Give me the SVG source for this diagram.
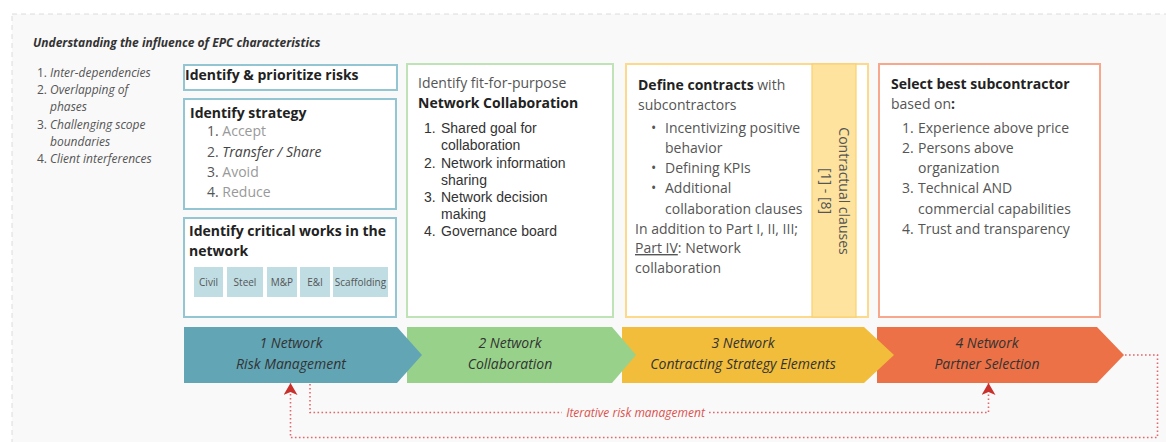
<svg xmlns="http://www.w3.org/2000/svg" width="1166" height="442" viewBox="0 0 1166 442">
  <style>
    .os { font-family: "Open Sans", "Noto Sans", "DejaVu Sans", sans-serif; }
    .ar { font-family: "Liberation Sans", Arial, sans-serif; }
    .title { font-size: 12px; font-weight: 700; font-style: italic; fill: #333; }
    .side { font-size: 12px; font-style: italic; fill: #555; }
    .sideN { font-size: 12px; fill: #555; }
    .head { font-size: 14px; font-weight: 700; fill: #222; }
    .body { font-size: 14px; fill: #555; }
    .dark { font-size: 14px; fill: #333; }
    .chip { fill: #bfdde3; }
    .chipT { font-size: 10px; fill: #555; text-anchor: middle; }
    .stage { font-size: 14px; font-style: italic; fill: #333; text-anchor: middle; }
    .bBlue { fill: #fff; stroke: #93c6d2; stroke-width: 2; }
    .bGreen { fill: #fff; stroke: #bfe2b7; stroke-width: 2; }
    .bYellow { fill: #fff; stroke: #fcd98b; stroke-width: 2; }
    .bOrange { fill: #fff; stroke: #f6a78c; stroke-width: 2; }
    .loop { fill: none; stroke: #e0676a; stroke-width: 1.6; stroke-dasharray: 1.6 2.4; }
    .loopT { font-size: 12px; font-style: italic; fill: #d9534f; text-anchor: middle; }
  </style>
  <defs>
    <marker id="arrow" markerUnits="userSpaceOnUse" markerWidth="12" markerHeight="14" viewBox="0 0 12 14" refX="12" refY="7" orient="auto">
      <path d="M0,0 L12,7 L0,14 L3,7 Z" fill="#c9302c"/>
    </marker>
  </defs>

  <!-- panel -->
  <rect x="12" y="14" width="1170" height="440" fill="#f9f9f9" stroke="#dcdcdc" stroke-width="1" stroke-dasharray="5 4"/>

  <text class="os title" x="33" y="47">Understanding the influence of EPC characteristics</text>

  <g id="epc-characteristics" class="os">
    <text class="sideN" x="37" y="77">1.</text><text class="side" x="50" y="77">Inter-dependencies</text>
    <text class="sideN" x="37" y="94">2.</text><text class="side" x="50" y="94">Overlapping of</text>
    <text class="side" x="50" y="111">phases</text>
    <text class="sideN" x="37" y="129">3.</text><text class="side" x="50" y="129">Challenging scope</text>
    <text class="side" x="50" y="146">boundaries</text>
    <text class="sideN" x="37" y="163">4.</text><text class="side" x="50" y="163">Client interferences</text>
  </g>

  <!-- risk management boxes -->
  <g id="prioritize-risks" class="os">
    <rect class="bBlue" x="184" y="65" width="213" height="25"/>
    <text class="head" x="185" y="80">Identify &amp; prioritize risks</text>
  </g>

  <g id="identify-strategy" class="os">
    <rect class="bBlue" x="184" y="99" width="212" height="110"/>
    <text class="head" x="190" y="118">Identify strategy</text>
    <text class="body" x="207" y="136">1. <tspan fill="#999">Accept</tspan></text>
    <text class="body" x="207" y="157">2. <tspan font-style="italic" fill="#444">Transfer / Share</tspan></text>
    <text class="body" x="207" y="177">3. <tspan fill="#999">Avoid</tspan></text>
    <text class="body" x="207" y="197">4. <tspan fill="#999">Reduce</tspan></text>
  </g>

  <g id="critical-works" class="os">
    <rect class="bBlue" x="184" y="218" width="212" height="99"/>
    <text class="head" x="189" y="236">Identify critical works in the</text>
    <text class="head" x="189" y="256">network</text>
    <rect class="chip" x="194" y="267" width="29" height="30"/>
    <text class="chipT" x="208.5" y="286">Civil</text>
    <rect class="chip" x="227" y="267" width="36" height="30"/>
    <text class="chipT" x="245" y="286">Steel</text>
    <rect class="chip" x="267" y="267" width="30" height="30"/>
    <text class="chipT" x="282" y="286">M&amp;P</text>
    <rect class="chip" x="300" y="267" width="30" height="30"/>
    <text class="chipT" x="315" y="286">E&amp;I</text>
    <rect class="chip" x="333" y="267" width="55" height="30"/>
    <text class="chipT" x="360.5" y="286">Scaffolding</text>
  </g>

  <!-- collaboration box -->
  <g id="network-collaboration" class="os">
    <rect class="bGreen" x="407" y="64" width="206" height="253"/>
    <text class="body" x="418" y="88" fill="#666">Identify fit-for-purpose</text>
    <text class="head" x="418" y="108">Network Collaboration</text>
    <g class="ar">
      <text class="dark" x="424" y="133">1.</text><text class="dark" x="441" y="133">Shared goal for</text>
      <text class="dark" x="441" y="150">collaboration</text>
      <text class="dark" x="424" y="168">2.</text><text class="dark" x="441" y="168">Network information</text>
      <text class="dark" x="441" y="185">sharing</text>
      <text class="dark" x="424" y="202">3.</text><text class="dark" x="441" y="202">Network decision</text>
      <text class="dark" x="441" y="219">making</text>
      <text class="dark" x="424" y="236">4.</text><text class="dark" x="441" y="236">Governance board</text>
    </g>
  </g>

  <!-- contracting box -->
  <g id="define-contracts" class="os">
    <rect class="bYellow" x="626" y="64" width="242" height="253"/>
    <rect x="812" y="64" width="44" height="253" fill="#fee39f" stroke="#f8d071" stroke-width="1.2"/>
    <text class="body" x="638" y="90"><tspan class="head">Define contracts</tspan> with</text>
    <text class="body" x="638" y="110">subcontractors</text>
    <text class="body" x="651" y="133">•</text><text class="body" x="665" y="133">Incentivizing positive</text>
    <text class="body" x="665" y="153">behavior</text>
    <text class="body" x="651" y="173">•</text><text class="body" x="665" y="173">Defining KPIs</text>
    <text class="body" x="651" y="193">•</text><text class="body" x="665" y="193">Additional</text>
    <text class="body" x="665" y="214">collaboration clauses</text>
    <text class="body" x="635" y="234">In addition to Part I, II, III;</text>
    <text class="body" x="635" y="253"><tspan text-decoration="underline">Part IV</tspan>: Network</text>
    <text class="body" x="635" y="273">collaboration</text>
    <text class="body" transform="translate(839,191) rotate(90)" text-anchor="middle">Contractual clauses</text>
    <text class="body" transform="translate(821,191) rotate(90)" text-anchor="middle">[1] - [8]</text>
  </g>

  <!-- partner selection box -->
  <g id="select-subcontractor" class="os">
    <rect class="bOrange" x="879" y="64" width="221" height="253"/>
    <text class="head" x="891" y="89">Select best subcontractor</text>
    <text class="body" x="891" y="109">based on<tspan font-weight="700" fill="#333">:</tspan></text>
    <text class="body" x="902" y="133">1.</text><text class="body" x="918" y="133">Experience above price</text>
    <text class="body" x="902" y="153">2.</text><text class="body" x="918" y="153">Persons above</text>
    <text class="body" x="918" y="173">organization</text>
    <text class="body" x="902" y="193">3.</text><text class="body" x="918" y="193">Technical AND</text>
    <text class="body" x="918" y="214">commercial capabilities</text>
    <text class="body" x="902" y="234">4.</text><text class="body" x="918" y="234">Trust and transparency</text>
  </g>

  <!-- process stages (drawn right to left so each tip overlaps the next stage) -->
  <g id="stage-4" class="os">
    <polygon points="877,327 1097,327 1124,355 1097,383 877,383" fill="#ec7147"/>
    <text class="stage" x="987" y="348">4 Network</text>
    <text class="stage" x="987" y="369">Partner Selection</text>
  </g>
  <g id="stage-3" class="os">
    <polygon points="622,327 864,327 894,355 864,383 622,383" fill="#f1bd3b"/>
    <text class="stage" x="743" y="348">3 Network</text>
    <text class="stage" x="743" y="369">Contracting Strategy Elements</text>
  </g>
  <g id="stage-2" class="os">
    <polygon points="407,327 612,327 636,355 612,383 407,383" fill="#98d28a"/>
    <text class="stage" x="510" y="348">2 Network</text>
    <text class="stage" x="510" y="369">Collaboration</text>
  </g>
  <g id="stage-1" class="os">
    <polygon points="184,327 397,327 422,355 397,383 184,383" fill="#62a5b5"/>
    <text class="stage" x="291" y="348">1 Network</text>
    <text class="stage" x="291" y="369">Risk Management</text>
  </g>

  <!-- feedback loops -->
  <g id="connectors">
    <path class="loop" d="M310,384 V412.5 H562"/>
    <path class="loop" d="M709,412.5 H988.5 V383" marker-end="url(#arrow)"/>
    <text class="os loopT" x="635.5" y="416.5">Iterative risk management</text>
    <path class="loop" d="M1125,355 H1157.5 V437.5 H290.5 V383" marker-end="url(#arrow)"/>
  </g>
</svg>
